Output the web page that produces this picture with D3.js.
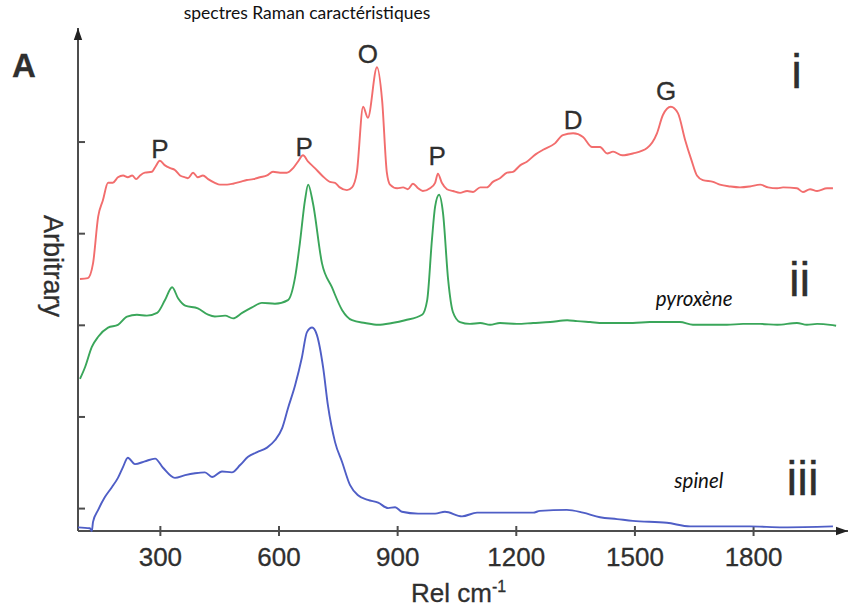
<!DOCTYPE html>
<html>
<head>
<meta charset="utf-8">
<script src="https://cdn.jsdelivr.net/npm/d3@7"></script>
<style>
  body { margin: 0; background: #fff; }
  svg { display: block; }
  .lbl { font-family: "Liberation Sans", Arial, sans-serif; fill: #2f2f2f; stroke: #2f2f2f; stroke-width: 0.3px; }
</style>
</head>
<body>
<div id="chart"></div>
<script>
// wavenumber (Rel cm-1), intensity (arbitrary, offset per spectrum)
const spectrumI = [
  [98,2.75],[118,2.76],[131,2.92],[144,3.43],[156,3.61],[169,3.80],[181,3.80],[194,3.86],[207,3.88],
  [219,3.86],[230,3.88],[240,3.84],[250,3.88],[262,3.91],[280,3.92],[288,3.97],[300,4.04],[313,3.99],
  [326,3.96],[338,3.94],[351,3.88],[364,3.86],[371,3.85],[384,3.91],[396,3.86],[409,3.88],[422,3.84],
  [439,3.80],[452,3.78],[470,3.78],[485,3.79],[503,3.81],[520,3.83],[536,3.84],[553,3.86],[571,3.88],
  [586,3.92],[604,3.91],[621,3.91],[637,3.96],[649,4.03],[662,4.10],[675,4.03],[692,3.96],[710,3.88],
  [730,3.81],[743,3.80],[755,3.75],[773,3.72],[786,3.75],[798,3.91],[814,4.63],[826,4.51],[849,5.06],
  [862,4.70],[874,3.91],[882,3.78],[900,3.74],[915,3.75],[927,3.73],[940,3.79],[953,3.74],[965,3.71],
  [983,3.74],[996,3.80],[1003,3.90],[1013,3.80],[1026,3.73],[1041,3.71],[1059,3.69],[1077,3.71],
  [1092,3.70],[1110,3.75],[1127,3.75],[1142,3.81],[1160,3.85],[1178,3.91],[1193,3.92],[1211,3.99],
  [1228,4.03],[1250,4.11],[1269,4.16],[1299,4.23],[1319,4.32],[1345,4.34],[1370,4.30],[1393,4.19],
  [1413,4.19],[1431,4.12],[1446,4.14],[1469,4.10],[1496,4.12],[1532,4.18],[1557,4.34],[1572,4.54],
  [1592,4.63],[1610,4.56],[1628,4.27],[1644,4.05],[1658,3.88],[1673,3.83],[1699,3.81],[1716,3.78],
  [1742,3.76],[1767,3.75],[1792,3.76],[1818,3.78],[1838,3.75],[1861,3.74],[1876,3.75],[1911,3.74],
  [1926,3.70],[1944,3.73],[1962,3.71],[1987,3.74],[2002,3.74]
];
const spectrumII = [
  [98,1.66],[111,1.79],[128,2.01],[144,2.12],[169,2.22],[194,2.25],[217,2.34],[242,2.36],[267,2.35],
  [293,2.38],[313,2.52],[331,2.66],[346,2.54],[364,2.46],[396,2.43],[422,2.36],[439,2.34],[465,2.35],
  [485,2.32],[508,2.38],[533,2.44],[558,2.49],[591,2.48],[624,2.52],[642,2.77],[654,3.14],[667,3.61],
  [675,3.78],[687,3.58],[710,2.92],[735,2.66],[761,2.41],[786,2.30],[819,2.27],[852,2.25],[887,2.27],
  [920,2.30],[963,2.36],[976,2.52],[988,3.18],[996,3.54],[1006,3.67],[1016,3.47],[1029,2.74],
  [1041,2.39],[1059,2.28],[1084,2.26],[1110,2.27],[1135,2.25],[1160,2.27],[1203,2.26],[1244,2.27],
  [1287,2.28],[1330,2.30],[1355,2.29],[1388,2.28],[1421,2.27],[1456,2.27],[1496,2.27],[1539,2.28],
  [1582,2.28],[1615,2.28],[1648,2.25],[1691,2.25],[1734,2.25],[1775,2.26],[1818,2.26],[1861,2.25],
  [1911,2.27],[1936,2.25],[1962,2.26],[1995,2.25],[2010,2.24]
];
const spectrumIII = [
  [93,0.04],[123,0.03],[128,0.00],[131,0.10],[144,0.23],[161,0.37],[179,0.48],[194,0.58],[207,0.70],
  [219,0.80],[237,0.73],[262,0.76],[288,0.79],[308,0.69],[338,0.58],[364,0.61],[389,0.63],[414,0.64],
  [432,0.59],[457,0.65],[482,0.64],[503,0.72],[523,0.81],[546,0.86],[571,0.91],[591,0.99],[609,1.12],
  [624,1.34],[642,1.59],[659,1.89],[672,2.17],[685,2.22],[697,2.14],[713,1.78],[725,1.37],[743,0.97],
  [761,0.75],[781,0.50],[801,0.39],[826,0.34],[852,0.31],[877,0.25],[895,0.26],[912,0.21],[953,0.19],
  [996,0.19],[1021,0.21],[1064,0.16],[1102,0.20],[1160,0.20],[1244,0.20],[1261,0.22],[1329,0.23],
  [1370,0.20],[1413,0.15],[1456,0.13],[1496,0.11],[1582,0.09],[1641,0.05],[1709,0.05],[1792,0.05],
  [1876,0.04],[2002,0.05]
];

const xTicks = [300, 600, 900, 1200, 1500, 1800];
const yTicks = [0.25, 1.25, 2.25, 3.25, 4.25];

const peakNames = ["P", "P", "O", "P", "D", "G"];
const peakW = [300, 665, 826, 1001, 1345, 1580];
const peakV = [4.07, 4.09, 5.11, 3.99, 4.39, 4.70];

const romanNames = ["i", "ii", "iii"];
const romanV = [4.83, 2.56, 0.39];

const mineralNames = ["pyroxène", "spinel"];
const mineralW = [1651, 1663];
const mineralV = [2.455, 0.47];

const W = 848, H = 609;
const svg = d3.select("#chart").append("svg").attr("width", W).attr("height", H);

const x = d3.scaleLinear().domain([93, 2035]).range([78, 846]);
const y = d3.scaleLinear().domain([0, 5.5]).range([531, 27]);

const axisCol = "#4d4d4d";

svg.append("defs").append("marker")
    .attr("id", "arrow")
    .attr("viewBox", "0 0 10 10")
    .attr("refX", 10).attr("refY", 5)
    .attr("markerWidth", 6).attr("markerHeight", 6)
    .attr("markerUnits", "strokeWidth")
    .attr("orient", "auto")
  .append("path")
    .attr("d", "M0,1.5 L10,5 L0,8.5 Z")
    .attr("fill", "#222");

// x axis
const gx = svg.append("g")
    .attr("transform", "translate(0," + y(0) + ")")
    .call(d3.axisBottom(x).tickValues(xTicks).tickFormat(d3.format("d"))
      .tickSize(5).tickSizeOuter(0).tickPadding(12));
gx.select(".domain").remove();
gx.append("line")
    .attr("x1", x.range()[0]).attr("x2", x.range()[1] + 2)
    .attr("stroke", axisCol).attr("stroke-width", 2)
    .attr("marker-end", "url(#arrow)");
gx.selectAll(".tick line").attr("y1", -5).attr("stroke", axisCol).attr("stroke-width", 2);
gx.selectAll(".tick text")
    .attr("class", "lbl")
    .attr("font-size", 26);

// y axis
const gy = svg.append("g")
    .attr("transform", "translate(" + x.range()[0] + ",0)")
    .call(d3.axisLeft(y).tickValues(yTicks).tickFormat("").tickSize(4).tickSizeOuter(0));
gy.select(".domain").remove();
gy.append("line")
    .attr("y1", y(0)).attr("y2", y.range()[1] + 1)
    .attr("stroke", axisCol).attr("stroke-width", 2)
    .attr("marker-end", "url(#arrow)");
gy.selectAll(".tick line").attr("x2", 7).attr("stroke", axisCol).attr("stroke-width", 2);

// spectra
const line = d3.line()
    .x(d => x(d[0]))
    .y(d => y(d[1]))
    .curve(d3.curveMonotoneX);

const series = [
  {data: spectrumI, color: "#f26d6d"},
  {data: spectrumII, color: "#3aa65a"},
  {data: spectrumIII, color: "#4f5ec6"}
];
svg.selectAll("path.spec").data(series).enter().append("path")
    .attr("class", "spec")
    .attr("d", d => line(d.data))
    .attr("fill", "none")
    .attr("stroke", d => d.color)
    .attr("stroke-width", 1.9)
    .attr("stroke-linejoin", "round");

// peak labels
svg.selectAll("text.peak").data(peakNames).enter().append("text")
    .attr("class", "lbl peak")
    .attr("x", (d, i) => x(peakW[i]))
    .attr("y", (d, i) => y(peakV[i]))
    .attr("text-anchor", "middle")
    .attr("font-size", 26)
    .text(d => d);

// spectrum numbers
svg.selectAll("text.roman").data(romanNames).enter().append("text")
    .attr("class", "lbl roman")
    .attr("x", (d, i) => x(1910) + i * 3)
    .attr("y", (d, i) => y(romanV[i]))
    .attr("text-anchor", "middle")
    .attr("font-size", 48)
    .text(d => d);

// mineral names
svg.selectAll("text.mineral").data(mineralNames).enter().append("text")
    .attr("x", (d, i) => x(mineralW[i]))
    .attr("y", (d, i) => y(mineralV[i]))
    .attr("text-anchor", "middle")
    .attr("font-family", "Lato, 'Open Sans', sans-serif")
    .attr("font-style", "italic")
    .attr("font-size", 20.5)
    .attr("fill", "#111")
    .text(d => d);

// title
svg.append("text")
    .attr("x", 307).attr("y", 19)
    .attr("text-anchor", "middle")
    .attr("font-family", "Lato, 'Open Sans', sans-serif")
    .attr("font-size", 17.5)
    .attr("fill", "#111")
    .text("spectres Raman caractéristiques");

// panel letter
svg.append("text")
    .attr("class", "lbl")
    .attr("x", 12).attr("y", 77)
    .attr("font-size", 33)
    .attr("font-weight", "bold")
    .text("A");

// axis titles
svg.append("text")
    .attr("class", "lbl")
    .attr("transform", "translate(44,266) rotate(90)")
    .attr("text-anchor", "middle")
    .attr("font-size", 27)
    .text("Arbitrary");

const xt = svg.append("text")
    .attr("class", "lbl")
    .attr("x", 411).attr("y", 602)
    .attr("font-size", 26);
xt.append("tspan").text("Rel cm");
xt.append("tspan").attr("dy", -10).attr("font-size", 16).text("-1");
</script>
</body>
</html>
